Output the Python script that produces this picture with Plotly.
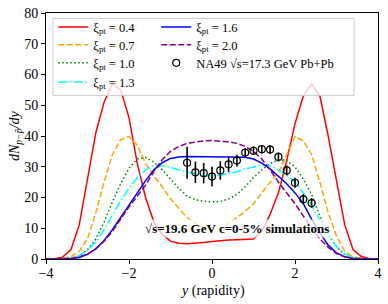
import plotly.graph_objects as go

# ---------------- data ----------------
y_rap = [-4.0, -3.8, -3.6, -3.4, -3.2, -3.0, -2.8, -2.6, -2.4, -2.2, -2.0,
         -1.8, -1.6, -1.4, -1.2, -1.0, -0.8, -0.6, -0.4, -0.2, 0.0,
         0.2, 0.4, 0.6, 0.8, 1.0, 1.2, 1.4, 1.6, 1.8, 2.0,
         2.2, 2.4, 2.6, 2.8, 3.0, 3.2, 3.4, 3.6, 3.8, 4.0]

xi_04 = [0, 0.1, 0.6, 3, 11, 26, 41, 51, 57, 55, 46,
         31, 20, 12, 8, 5.8, 5.1, 5.0, 5.1, 5.4, 5.7,
         6.0, 6.2, 6.3, 6.3, 6.5, 9, 14.5, 21.5, 32, 44,
         53, 57, 53, 40, 25, 11, 3, 0.8, 0.1, 0]
xi_07 = [0, 0, 0.1, 0.7, 2.5, 6.5, 15, 25, 34, 38.8, 39.8,
         37, 31, 27, 23.5, 19.5, 16.5, 13.5, 11.5, 10, 9.5,
         10, 11.5, 13.5, 15.5, 18, 21.5, 25, 28, 34, 39.8,
         38.5, 34, 25, 15, 7.5, 2.5, 0.7, 0.1, 0, 0]
xi_10 = [0, 0, 0, 0.2, 1, 3, 6.5, 12, 18.5, 24.5, 29.5,
         32.5, 33, 31.5, 29, 26, 23, 20.5, 19.3, 18.8, 18.6,
         18.7, 19.5, 21, 23.5, 26.5, 29, 31, 32.3, 32, 30,
         26, 21, 14, 8, 4, 1.5, 0.4, 0.1, 0, 0]
xi_13 = [0, 0, 0.05, 0.3, 1, 2.8, 5.5, 9.5, 14.5, 19, 23,
         26.5, 29, 30.3, 30.3, 29.8, 29, 28.3, 27.7, 27.2, 27,
         27.2, 27.7, 28.4, 29.3, 30, 30.5, 30.3, 29, 27.3, 25,
         21.5, 17.5, 12.5, 8, 4, 1.6, 0.5, 0.1, 0, 0]
xi_16 = [0, 0, 0, 0.1, 0.5, 1.5, 3.3, 6, 9.5, 13.5, 17.5,
         21.5, 25.5, 29, 31.3, 32.7, 33.2, 33.3, 33.3, 33.2, 33.2,
         33.2, 33.3, 33.3, 33.1, 32.5, 31.2, 29.3, 27, 24.5, 21.5,
         18, 13, 8.5, 4.5, 2, 0.7, 0.2, 0, 0, 0]
xi_20 = [0, 0, 0.05, 0.2, 0.7, 1.6, 3.3, 5.8, 9, 13, 17,
         20.5, 24, 28.5, 32.3, 35, 36.6, 37.6, 38.1, 38.4, 38.5,
         38.4, 38.1, 37.6, 36.6, 35, 32.5, 29, 25, 21.5, 18,
         14, 10, 6.5, 3.8, 1.8, 0.7, 0.2, 0.05, 0, 0]

na49_y = [-0.6, -0.4, -0.2, 0.0, 0.2, 0.4, 0.6, 0.8, 1.0, 1.2, 1.4, 1.6,
          1.8, 2.0, 2.2, 2.4]
na49_v = [31.3, 28.2, 27.9, 26.8, 28.8, 30.8, 32.0, 34.6, 35.2, 35.7, 35.6,
          33.2, 28.8, 24.8, 19.4, 18.2]
na49_err = [5.2, 3.5, 3.3, 3.2, 3.0, 2.5, 1.9, 1.4, 1.4, 1.4, 1.4, 1.5,
            1.6, 1.6, 1.7, 1.6]

x_ticks = [-4, -2, 0, 2, 4]
x_ticktext = ["−4", "−2", "0", "2", "4"]
y_ticks = [0, 10, 20, 30, 40, 50, 60, 70, 80]

FONT = "Liberation Serif"

curves = [
    (xi_04, "ξ<sub>pt</sub> = 0.4", "#ff0000", "solid", "legend"),
    (xi_07, "ξ<sub>pt</sub> = 0.7", "#ffa500", "6px,2.5px", "legend2"),
    (xi_10, "ξ<sub>pt</sub> = 1.0", "#008000", "1.5px,2.5px", "legend3"),
    (xi_13, "ξ<sub>pt</sub> = 1.3", "#00ffff", "9px,2.5px,1.5px,2.5px", "legend4"),
    (xi_16, "ξ<sub>pt</sub> = 1.6", "#0000ff", "solid", "legend5"),
    (xi_20, "ξ<sub>pt</sub> = 2.0", "#800080", "6px,2.5px", "legend6"),
]

fig = go.Figure()
for vals, name, col, dash, leg in curves:
    fig.add_trace(go.Scatter(
        x=y_rap, y=vals, mode="lines", name=name, legend=leg,
        line=dict(color=col, width=1.5, dash=dash)))

fig.add_trace(go.Scatter(
    x=na49_y, y=na49_v, mode="markers", legend="legend7",
    name="NA49 √s=17.3 GeV Pb+Pb",
    marker=dict(symbol="circle-open", size=7, color="black",
                line=dict(width=1.2, color="black")),
    error_y=dict(type="data", array=na49_err, color="black",
                 thickness=1.6, width=0)))

axis_common = dict(
    showgrid=False, zeroline=False, showline=True, linecolor="black",
    linewidth=1, mirror=True, ticks="outside", ticklen=4, automargin=False,
    tickcolor="black", tickfont=dict(family=FONT, size=14, color="black"))

leg_common = dict(xanchor="left", yanchor="middle", bgcolor="rgba(0,0,0,0)",
                  borderwidth=0, font=dict(family=FONT, size=12.5),
                  tracegroupgap=0, itemwidth=30)

col_x = [0.022, 0.332]
row_y = [0.942, 0.869, 0.796, 0.718]

fig.update_layout(
    width=388, height=304,
    margin=dict(l=46, r=10, t=13, b=45, autoexpand=False),
    paper_bgcolor="white", plot_bgcolor="white",
    font=dict(family=FONT, size=12, color="black"),
    xaxis=dict(range=[-4, 4], tickvals=x_ticks, ticktext=x_ticktext,
               ticklabelstandoff=-3, **axis_common),
    yaxis=dict(range=[0, 80], tickvals=y_ticks, **axis_common),
    legend=dict(x=col_x[0], y=row_y[0], **leg_common),
    legend2=dict(x=col_x[0], y=row_y[1], **leg_common),
    legend3=dict(x=col_x[0], y=row_y[2], **leg_common),
    legend4=dict(x=col_x[0], y=row_y[3], **leg_common),
    legend5=dict(x=col_x[1], y=row_y[0], **leg_common),
    legend6=dict(x=col_x[1], y=row_y[1], **leg_common),
    legend7=dict(x=col_x[1], y=row_y[2], **leg_common),
    showlegend=True,
)

fig.add_shape(type="rect", xref="paper", yref="paper",
              x0=0.021, x1=0.928, y0=0.665, y1=0.978, layer="above",
              fillcolor="rgba(255,255,255,0.8)",
              line=dict(color="#cccccc", width=1))

fig.add_annotation(x=0.6, y=9.9, xref="x", yref="y", showarrow=False,
                   text="<b>√s=19.6 GeV c=0-5% simulations</b>",
                   font=dict(family=FONT, size=13, color="black"),
                   bgcolor="rgba(255,255,255,0.75)", borderpad=1)

# axis titles
fig.add_annotation(x=0.5, y=-0.13, xref="paper", yref="paper",
                   xanchor="center", yanchor="middle",
                   showarrow=False, text="<i>y</i> (rapidity)",
                   font=dict(family=FONT, size=14))
fig.add_annotation(x=-0.093, y=0.5, xref="paper", yref="paper",
                   xanchor="center", yanchor="middle",
                   showarrow=False, textangle=-90,
                   text="<i>dN</i><sub><i>p−p̄</i></sub><i>/dy</i>",
                   font=dict(family=FONT, size=14))

fig.write_html("out.html", config={"displayModeBar": False},
               post_script="document.body.style.margin='0';"
                           "document.body.style.overflow='hidden';")
